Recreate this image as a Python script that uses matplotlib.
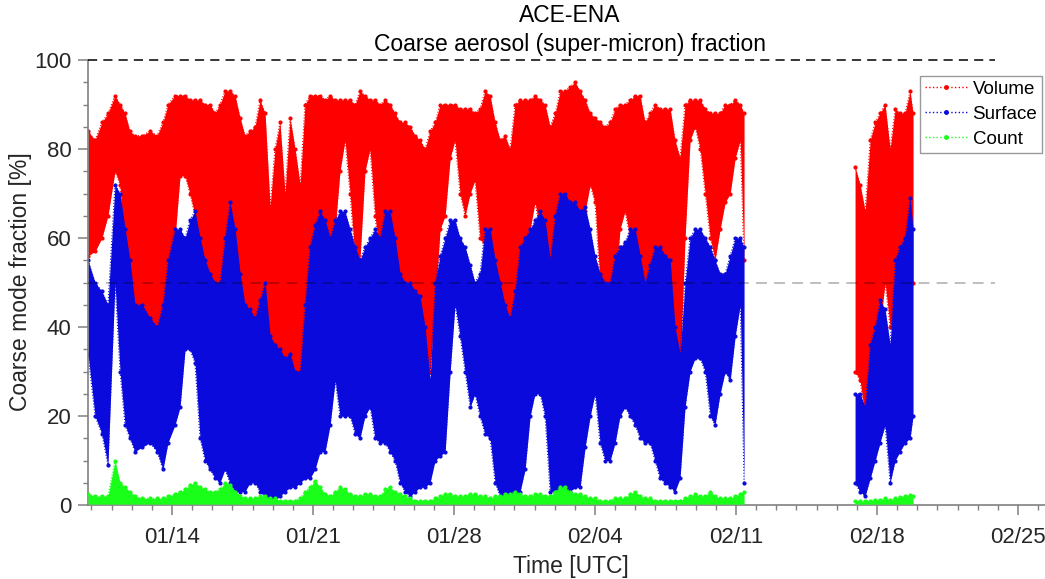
import matplotlib
matplotlib.use("Agg")
import matplotlib.pyplot as plt
import matplotlib.dates as mdates
import numpy as np
from datetime import datetime, timedelta
from matplotlib.lines import Line2D

plt.rcParams['font.family'] = ['Liberation Sans', 'DejaVu Sans']

# --- DATA (day of Jan 2018; 32 = Feb 1), envelopes ---
t_main = [9.83, 10.18, 10.52, 10.82, 11.17, 11.42, 11.67, 11.91, 12.16, 12.51,
          12.91, 13.26, 13.55, 13.80, 14.15, 14.40, 14.65, 14.89, 15.14, 15.39,
          15.64, 15.89, 16.14, 16.38, 16.63, 16.88, 17.13, 17.38, 17.62, 17.87,
          18.12, 18.37, 18.62, 18.87, 19.11, 19.36, 19.61, 19.86, 20.11, 20.36,
          20.60, 20.85, 21.10, 21.35, 21.60, 21.85, 22.10, 22.34, 22.59, 22.84,
          23.09, 23.33, 23.58, 23.83, 24.08, 24.33, 24.58, 24.82, 25.07, 25.32,
          25.57, 25.82, 26.07, 26.31, 26.56, 26.81, 27.06, 27.31, 27.56, 27.81,
          28.05, 28.30, 28.55, 28.80, 29.04, 29.29, 29.54, 29.79, 30.04, 30.29,
          30.53, 30.78, 31.03, 31.28, 31.53, 31.78, 32.02, 32.27, 32.52, 32.77,
          33.02, 33.27, 33.51, 33.76, 34.01, 34.26, 34.51, 34.76, 35.00, 35.25,
          35.50, 35.75, 36.00, 36.24, 36.49, 36.74, 36.99, 37.24, 37.48, 37.73,
          37.98, 38.23, 38.48, 38.73, 38.97, 39.22, 39.47, 39.72, 39.97, 40.22,
          40.47, 40.72, 40.96, 41.21, 41.46, 41.71, 41.96, 42.21, 42.40]
vol_hi = [84, 82, 86, 88, 92, 90, 88, 84, 83, 83,
          84, 83, 86, 90, 92, 92, 92, 91, 91, 91,
          90, 90, 88, 90, 93, 93, 92, 87, 83, 84,
          85, 91, 88, 67, 80, 86, 70, 87, 80, 72,
          90, 92, 92, 92, 91, 92, 91, 91, 91, 91,
          90, 93, 92, 91, 91, 90, 91, 90, 88, 86,
          86, 85, 83, 82, 80, 84, 86, 90, 90, 90,
          90, 89, 89, 89, 88, 89, 93, 92, 86, 82,
          83, 80, 90, 91, 91, 91, 92, 91, 90, 85,
          88, 93, 93, 94, 95, 93, 91, 88, 87, 86,
          85, 86, 89, 90, 90, 91, 92, 92, 86, 88,
          90, 89, 89, 89, 82, 78, 90, 91, 91, 91,
          89, 88, 88, 88, 90, 90, 91, 90, 88]
vol_lo = [56, 57, 60, 65, 75, 72, 55, 45, 40, 38,
          36, 35, 35, 50, 60, 74, 74, 70, 65, 55,
          50, 50, 45, 45, 45, 48, 40, 30, 25, 22,
          25, 28, 30, 22, 30, 30, 28, 30, 28, 24,
          35, 45, 50, 55, 58, 55, 62, 75, 82, 70,
          55, 55, 75, 80, 65, 55, 50, 45, 40, 35,
          30, 28, 28, 24, 26, 30, 45, 62, 65, 78,
          82, 70, 65, 70, 73, 60, 58, 55, 45, 38,
          32, 30, 40, 52, 55, 62, 68, 62, 50, 42,
          48, 55, 60, 60, 62, 60, 66, 72, 68, 50,
          42, 42, 48, 62, 66, 60, 55, 48, 42, 38,
          36, 35, 33, 32, 30, 30, 60, 82, 85, 80,
          70, 60, 55, 62, 68, 70, 78, 82, 55]
surf_hi = [55, 50, 48, 45, 72, 70, 62, 55, 45, 45,
           42, 40, 45, 55, 62, 62, 60, 64, 66, 60,
           55, 52, 50, 50, 60, 68, 62, 52, 45, 44,
           42, 46, 50, 38, 36, 35, 33, 34, 30, 30,
           45, 58, 63, 66, 64, 60, 64, 66, 66, 62,
           58, 55, 58, 60, 62, 60, 66, 66, 60, 52,
           50, 50, 48, 47, 40, 28, 50, 56, 60, 64,
           64, 60, 58, 54, 50, 52, 62, 62, 55, 50,
           45, 42, 48, 58, 60, 62, 64, 66, 64, 55,
           65, 70, 70, 68, 68, 66, 67, 62, 56, 52,
           50, 50, 56, 58, 59, 62, 62, 56, 50, 54,
           58, 58, 56, 55, 40, 34, 50, 60, 62, 62,
           60, 58, 55, 52, 52, 56, 60, 60, 58]
surf_lo = [34, 20, 16, 9, 50, 30, 18, 15, 12, 13,
           14, 12, 8, 14, 18, 22, 35, 35, 32, 15,
           10, 8, 6, 5, 8, 5, 3, 3, 3, 5,
           5, 3, 2, 1, 1, 2, 3, 4, 4, 5,
           6, 6, 8, 12, 12, 18, 28, 20, 20, 20,
           16, 15, 20, 22, 15, 14, 14, 12, 10, 5,
           3, 2, 3, 4, 4, 5, 10, 11, 12, 30,
           45, 38, 30, 22, 25, 20, 16, 15, 5, 2,
           1, 1, 2, 3, 8, 20, 25, 25, 20, 3,
           3, 4, 3, 3, 4, 4, 13, 20, 25, 14,
           10, 10, 14, 20, 22, 20, 18, 15, 14, 14,
           10, 6, 5, 4, 3, 6, 22, 30, 33, 33,
           30, 20, 18, 25, 30, 28, 38, 45, 5]
count_hi = [2.5, 2.0, 2.0, 2.0, 10.0, 5.0, 4.0, 3.0, 2.0, 1.5,
            1.5, 1.5, 1.5, 2.0, 2.5, 3.0, 3.5, 4.5, 5.0, 4.0,
            3.5, 3.0, 3.0, 3.5, 5.0, 4.5, 3.0, 2.0, 1.5, 1.5,
            1.5, 2.0, 2.0, 1.5, 1.5, 1.0, 1.0, 1.0, 1.0, 1.5,
            3.0, 4.0, 5.5, 4.0, 2.5, 2.0, 3.0, 4.0, 3.5, 2.5,
            2.0, 2.0, 2.5, 2.5, 2.0, 2.0, 3.5, 4.0, 3.0, 2.5,
            2.0, 1.5, 1.0, 1.0, 1.0, 1.0, 1.5, 2.0, 2.5, 2.5,
            2.0, 2.0, 2.0, 2.5, 2.5, 2.0, 2.0, 1.5, 2.0, 2.0,
            2.5, 2.5, 3.0, 2.5, 2.0, 2.0, 2.5, 2.5, 2.0, 2.0,
            3.0, 4.0, 4.0, 3.0, 2.5, 2.5, 2.0, 1.5, 1.5, 1.0,
            1.0, 1.0, 1.5, 1.5, 1.5, 2.5, 3.0, 2.0, 1.5, 1.5,
            1.0, 1.0, 1.0, 1.0, 1.0, 1.0, 1.5, 2.0, 2.5, 2.0,
            2.0, 3.0, 2.0, 1.5, 1.5, 1.5, 2.0, 2.5, 3.0]

t_feb = [47.91, 48.16, 48.41, 48.66, 48.91, 49.15, 49.40, 49.65, 49.90,
         50.14, 50.39, 50.64, 50.79]
vol_hi_feb = [76, 72, 66, 82, 86, 88, 90, 80, 89, 88, 88, 93, 88]
vol_lo_feb = [30, 28, 20, 25, 32, 40, 50, 40, 40, 38, 45, 50, 50]
surf_hi_feb = [25, 25, 22, 36, 40, 46, 44, 36, 55, 58, 60, 69, 62]
surf_lo_feb = [5, 3, 2, 6, 10, 14, 18, 5, 10, 12, 14, 15, 20]
count_hi_feb = [0.8, 0.8, 1.0, 1.0, 1.2, 1.2, 1.5, 1.2, 1.5, 1.8, 2.0, 2.2, 2.0]

x_start, x_end = 9.83, 57.34
ref_end = 54.85
tick_days = [14, 21, 28, 35, 42, 49, 56]
tick_labels = ['01/14', '01/21', '01/28', '02/04', '02/11', '02/18', '02/25']

BASE = datetime(2017, 12, 31)


def to_num(days):
    return mdates.date2num([BASE + timedelta(days=float(d)) for d in days])


fig = plt.figure(figsize=(10.45, 5.79), dpi=100)
ax = fig.add_axes([88 / 1045, 74 / 579, (1045 - 88) / 1045, 445 / 579])

colors = {'Volume': '#ff0000', 'Surface': '#0a0adc', 'Count': '#19ff19'}

for t, lo, hi, c in [(t_main, vol_lo, vol_hi, colors['Volume']),
                     (t_feb, vol_lo_feb, vol_hi_feb, colors['Volume']),
                     (t_main, surf_lo, surf_hi, colors['Surface']),
                     (t_feb, surf_lo_feb, surf_hi_feb, colors['Surface'])]:
    x = to_num(t)
    ax.fill_between(x, lo, hi, color=c, lw=0, zorder=2)
    ax.plot(x, hi, ls=':', marker='.', ms=4, lw=0.8, color=c, zorder=2)
    ax.plot(x, lo, ls=':', marker='.', ms=4, lw=0.8, color=c, zorder=2)

for t, hi in [(t_main, count_hi), (t_feb, count_hi_feb)]:
    x = to_num(t)
    ax.fill_between(x, 0.2, hi, color=colors['Count'], lw=0, zorder=3)
    ax.plot(x, hi, ls=':', marker='.', ms=4, lw=0.8, color=colors['Count'], zorder=3)

# reference lines
xr = to_num([x_start, ref_end])
ax.plot(xr, [100, 100], ls=(0, (6, 4)), color='black', lw=1.1, zorder=4, clip_on=False)
ax.plot(xr, [50, 50], ls=(0, (6, 4)), color='black', alpha=0.28, lw=1.3, zorder=4)

ax.set_xlim(to_num([x_start, x_end]))
ax.set_ylim(0, 100)

ax.set_xticks(to_num(tick_days))
ax.set_xticklabels(tick_labels)
ax.xaxis.set_minor_locator(mdates.DayLocator())
ax.set_yticks([0, 20, 40, 60, 80, 100])
ax.set_yticks(np.arange(0, 101, 5), minor=True)

for s in ['top', 'right']:
    ax.spines[s].set_visible(False)
for s in ['left', 'bottom']:
    ax.spines[s].set_color('#808080')
    ax.spines[s].set_linewidth(1.2)

ax.tick_params(which='major', direction='out', length=7, width=1.1,
               color='#808080', labelsize=16, labelcolor='#262626', pad=5)
ax.tick_params(which='minor', direction='out', length=3.6, width=1.0, color='#808080')
ax.tick_params(axis='x', which='major', pad=9)

fig.text(570 / 1045, 1 - 16 / 579, 'ACE-ENA', ha='center', va='center', fontsize=16.5)
fig.text(570 / 1045, 1 - 45 / 579, 'Coarse aerosol (super-micron) fraction',
         ha='center', va='center', fontsize=16.5)
fig.text(571 / 1045, 1 - 566 / 579, 'Time [UTC]', ha='center', va='center',
         fontsize=16.5, color='#262626')
fig.text(21 / 1045, 1 - 282 / 579, 'Coarse mode fraction [%]', ha='center', va='center',
         rotation=90, fontsize=16.5, color='#262626')

handles = [Line2D([], [], ls=':', marker='.', ms=5, lw=1, color=colors[k]) for k in colors]
leg = ax.legend(handles, list(colors.keys()), loc='upper left',
                bbox_to_anchor=(920 / 1045, 1 - 76 / 579), bbox_transform=fig.transFigure,
                fontsize=13.5, frameon=True, fancybox=False, handlelength=2.3,
                borderpad=0.25, labelspacing=0.42, handletextpad=0.25, borderaxespad=0)
leg.get_frame().set_edgecolor('#808080')
leg.get_frame().set_linewidth(1.0)

fig.savefig('out.png', dpi=100)
